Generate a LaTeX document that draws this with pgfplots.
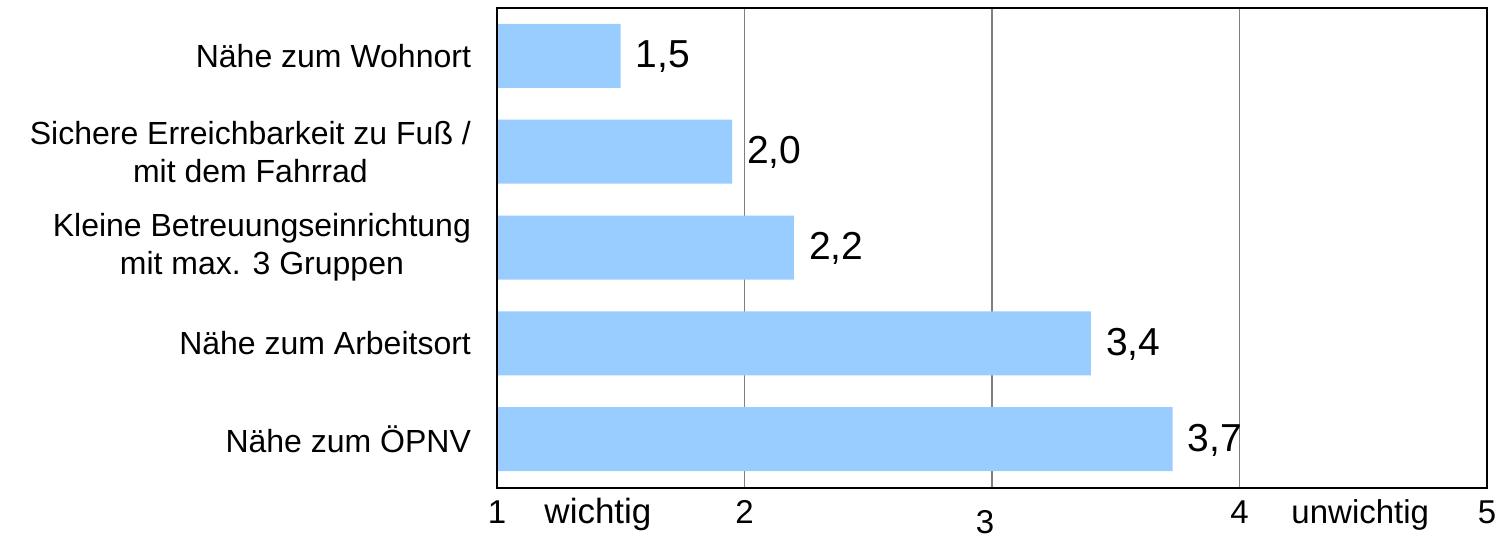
\documentclass[border=0pt]{standalone}
\usepackage{pgfplots}
\pgfplotsset{compat=1.18}
\usepackage{fontspec}
\setmainfont{Liberation Sans}
\definecolor{barblue}{HTML}{99CCFF}
\definecolor{gridgray}{HTML}{7F7F7F}

\begin{document}
\begin{tikzpicture}
\begin{axis}[
    scale only axis,
    width=495pt, height=240pt,
    xmin=1, xmax=5,
    ymin=-0.51, ymax=4.5,
    xbar, bar width=32pt,
    clip mode=individual,
    xtick={1,2,4,5},
    xticklabels={1,2,4,5},
    extra x ticks={3},
    extra x tick labels={3},
    extra x tick style={grid=major, tick label style={yshift=-5pt, xshift=-3.5pt}},
    ytick={0,1,2,3,4},
    yticklabels={
        Nähe zum ÖPNV,
        Nähe zum Arbeitsort,
        {Kleine Betreuungseinrichtung\\mit max. 3 Gruppen},
        {Sichere Erreichbarkeit zu Fuß /\\mit dem Fahrrad},
        Nähe zum Wohnort},
    major tick length=0pt,
    xmajorgrids,
    major grid style={draw=gridgray, line width=0.75pt},
    axis line style={draw=black, line width=1pt},
    /pgf/number format/assume math mode=true,
    xticklabel style={font=\fontsize{16.5}{19}\selectfont, anchor=base, yshift=-17.5pt},
    yticklabel style={font=\fontsize{16}{19}\selectfont, align=center, xshift=-9.5pt},
    point meta=explicit symbolic,
    nodes near coords,
    nodes near coords style={font=\fontsize{19.5}{22}\selectfont, anchor=west, xshift=4pt, yshift=-0.5pt, text=black},
]
    % mittlere Bewertung (1 = wichtig, 5 = unwichtig)
    \addplot[fill=barblue, draw=none] coordinates {
        (3.73,0) [3{,}7]
        (3.40,1) [3{,}4]
        (2.20,2) [2{,}2]
        (1.95,3) [2{,}0]
        (1.50,4) [1{,}5]
    };
    \draw[black, line width=1pt] (rel axis cs:0,0) rectangle (rel axis cs:1,1);
    \node[anchor=base, font=\fontsize{17.5}{19}\selectfont, yshift=-17.5pt]
        at (rel axis cs:0.102,0) {wichtig};
    \node[anchor=base, font=\fontsize{16.5}{19}\selectfont, yshift=-17.5pt]
        at (rel axis cs:0.872,0) {unwichtig};
\end{axis}
\path (-248.5pt,-24pt) (503.5pt,244pt);
\end{tikzpicture}
\end{document}
